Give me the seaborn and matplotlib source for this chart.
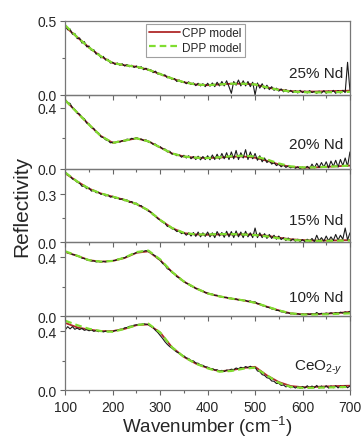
import matplotlib
matplotlib.use("Agg")
import matplotlib.pyplot as plt
import seaborn as sns

# wavenumber grids (cm^-1)
wn_exp = list(range(100, 701, 5))
wn_fit = list(range(100, 701, 25))

# --- 25% Nd ---
exp_25 = [0.47, 0.44, 0.445, 0.41, 0.415, 0.38, 0.385, 0.35, 0.36, 0.325,
          0.33, 0.30, 0.305, 0.275, 0.28, 0.25, 0.26, 0.235, 0.24, 0.215,
          0.22, 0.205, 0.215, 0.20, 0.21, 0.195, 0.205, 0.19, 0.20, 0.185,
          0.195, 0.18, 0.19, 0.17, 0.18, 0.165, 0.17, 0.15, 0.16, 0.14,
          0.145, 0.13, 0.135, 0.115, 0.12, 0.105, 0.11, 0.09, 0.10, 0.085,
          0.09, 0.075, 0.088, 0.07, 0.08, 0.062, 0.078, 0.06, 0.075, 0.055,
          0.078, 0.058, 0.08, 0.055, 0.085, 0.06, 0.09, 0.06, 0.095, 0.055,
          0.01, 0.09, 0.065, 0.10, 0.06, 0.095, 0.06, 0.09, 0.055, 0.085,
          0.0, 0.08, 0.045, 0.075, 0.04, 0.065, 0.035, 0.055, 0.03, 0.045,
          0.025, 0.04, 0.02, 0.035, 0.018, 0.03, 0.015, 0.028, 0.012, 0.03,
          0.015, 0.025, 0.012, 0.028, 0.015, 0.022, 0.01, 0.025, 0.012, 0.028,
          0.01, 0.025, 0.015, 0.03, 0.01, 0.028, 0.012, 0.03, 0.015, 0.22,
          0.03]
cpp_25 = [0.46, 0.39, 0.32, 0.26, 0.215, 0.20, 0.19, 0.17, 0.14, 0.11,
          0.085, 0.07, 0.065, 0.07, 0.075, 0.075, 0.07, 0.05, 0.035, 0.025,
          0.022, 0.022, 0.024, 0.026, 0.028]
dpp_25 = [0.47, 0.39, 0.32, 0.26, 0.215, 0.20, 0.19, 0.17, 0.14, 0.11,
          0.085, 0.07, 0.065, 0.07, 0.075, 0.075, 0.07, 0.05, 0.033, 0.022,
          0.018, 0.016, 0.017, 0.018, 0.02]

# --- 20% Nd ---
exp_20 = [0.455, 0.435, 0.43, 0.40, 0.39, 0.365, 0.36, 0.335, 0.33, 0.30,
          0.295, 0.27, 0.265, 0.24, 0.235, 0.21, 0.205, 0.19, 0.185, 0.17,
          0.175, 0.17, 0.18, 0.175, 0.185, 0.18, 0.195, 0.19, 0.20, 0.195,
          0.205, 0.195, 0.195, 0.185, 0.19, 0.175, 0.175, 0.16, 0.162, 0.145,
          0.145, 0.13, 0.13, 0.11, 0.115, 0.095, 0.10, 0.085, 0.092, 0.075,
          0.088, 0.07, 0.085, 0.065, 0.08, 0.06, 0.082, 0.058, 0.08, 0.06,
          0.085, 0.058, 0.09, 0.06, 0.095, 0.062, 0.10, 0.065, 0.105, 0.06,
          0.11, 0.065, 0.12, 0.06, 0.105, 0.07, 0.125, 0.06, 0.11, 0.065,
          0.10, 0.055, 0.085, 0.045, 0.07, 0.04, 0.055, 0.03, 0.04, 0.02,
          0.03, 0.012, 0.025, 0.008, 0.018, 0.005, 0.015, 0.002, 0.012, 0.0,
          0.01, 0.002, 0.015, 0.0, 0.03, 0.005, 0.035, 0.008, 0.04, 0.01,
          0.045, 0.005, 0.05, 0.015, 0.055, 0.01, 0.06, 0.02, 0.07, 0.015,
          0.11]
cpp_20 = [0.45, 0.37, 0.29, 0.215, 0.17, 0.185, 0.20, 0.18, 0.14, 0.10,
          0.08, 0.072, 0.07, 0.073, 0.078, 0.08, 0.072, 0.052, 0.028, 0.012,
          0.006, 0.008, 0.012, 0.016, 0.02]
dpp_20 = [0.45, 0.37, 0.29, 0.215, 0.17, 0.185, 0.20, 0.18, 0.14, 0.10,
          0.08, 0.072, 0.07, 0.075, 0.082, 0.085, 0.08, 0.06, 0.034, 0.015,
          0.008, 0.008, 0.012, 0.016, 0.02]

# --- 15% Nd ---
exp_15 = [0.44, 0.42, 0.415, 0.395, 0.39, 0.375, 0.37, 0.35, 0.35, 0.335,
          0.34, 0.32, 0.325, 0.31, 0.312, 0.30, 0.302, 0.29, 0.295, 0.282,
          0.288, 0.275, 0.28, 0.268, 0.272, 0.26, 0.265, 0.25, 0.255, 0.24,
          0.245, 0.228, 0.23, 0.212, 0.21, 0.195, 0.19, 0.172, 0.165, 0.148,
          0.14, 0.125, 0.12, 0.10, 0.098, 0.085, 0.082, 0.068, 0.07, 0.055,
          0.062, 0.045, 0.06, 0.04, 0.062, 0.038, 0.065, 0.035, 0.06, 0.038,
          0.065, 0.035, 0.06, 0.03, 0.068, 0.04, 0.062, 0.032, 0.07, 0.035,
          0.068, 0.03, 0.072, 0.035, 0.065, 0.03, 0.07, 0.035, 0.06, 0.03,
          0.09, 0.03, 0.06, 0.03, 0.055, 0.025, 0.05, 0.025, 0.045, 0.02,
          0.04, 0.018, 0.03, 0.012, 0.028, 0.01, 0.022, 0.008, 0.02, 0.005,
          0.018, 0.005, 0.02, 0.008, 0.025, 0.005, 0.045, 0.01, 0.03, 0.008,
          0.04, 0.01, 0.035, 0.012, 0.05, 0.015, 0.045, 0.02, 0.09, 0.015,
          0.06]
cpp_15 = [0.43, 0.38, 0.335, 0.305, 0.285, 0.265, 0.24, 0.20, 0.14, 0.09,
          0.058, 0.05, 0.048, 0.05, 0.05, 0.05, 0.048, 0.042, 0.03, 0.02,
          0.015, 0.012, 0.012, 0.013, 0.015]
dpp_15 = [0.435, 0.38, 0.335, 0.305, 0.285, 0.265, 0.24, 0.20, 0.14, 0.09,
          0.06, 0.05, 0.05, 0.052, 0.052, 0.05, 0.046, 0.038, 0.026, 0.016,
          0.012, 0.01, 0.01, 0.011, 0.012]

# --- 10% Nd ---
exp_10 = [0.44, 0.43, 0.43, 0.418, 0.416, 0.408, 0.405, 0.394, 0.392, 0.382,
          0.382, 0.374, 0.376, 0.368, 0.372, 0.367, 0.372, 0.368, 0.374, 0.372,
          0.378, 0.378, 0.386, 0.386, 0.395, 0.396, 0.406, 0.41, 0.42, 0.424,
          0.432, 0.434, 0.44, 0.44, 0.445, 0.438, 0.432, 0.418, 0.408, 0.39,
          0.38, 0.358, 0.346, 0.322, 0.315, 0.296, 0.288, 0.268, 0.26, 0.244,
          0.238, 0.224, 0.218, 0.204, 0.20, 0.188, 0.185, 0.174, 0.172, 0.16,
          0.158, 0.15, 0.15, 0.142, 0.142, 0.134, 0.134, 0.128, 0.128, 0.12,
          0.122, 0.115, 0.118, 0.11, 0.113, 0.106, 0.108, 0.10, 0.104, 0.095,
          0.098, 0.085, 0.085, 0.072, 0.072, 0.062, 0.06, 0.05, 0.05, 0.04,
          0.04, 0.03, 0.03, 0.022, 0.024, 0.017, 0.02, 0.013, 0.017, 0.012,
          0.016, 0.012, 0.017, 0.013, 0.018, 0.013, 0.026, 0.014, 0.02, 0.016,
          0.022, 0.017, 0.024, 0.018, 0.025, 0.02, 0.028, 0.022, 0.03, 0.024,
          0.034]
cpp_10 = [0.435, 0.41, 0.38, 0.37, 0.375, 0.395, 0.43, 0.44, 0.38, 0.30,
          0.235, 0.19, 0.155, 0.135, 0.12, 0.108, 0.092, 0.065, 0.04, 0.02,
          0.014, 0.015, 0.018, 0.022, 0.03]
dpp_10 = [0.44, 0.41, 0.38, 0.37, 0.375, 0.397, 0.435, 0.445, 0.385, 0.30,
          0.235, 0.19, 0.155, 0.135, 0.12, 0.108, 0.092, 0.066, 0.04, 0.02,
          0.012, 0.012, 0.014, 0.017, 0.02]

# --- CeO2-y ---
exp_ce = [0.41, 0.43, 0.415, 0.43, 0.412, 0.42, 0.41, 0.418, 0.405, 0.41,
          0.402, 0.408, 0.398, 0.404, 0.396, 0.402, 0.394, 0.40, 0.395, 0.398,
          0.397, 0.404, 0.404, 0.412, 0.412, 0.422, 0.424, 0.432, 0.434, 0.44,
          0.442, 0.446, 0.446, 0.45, 0.446, 0.444, 0.432, 0.424, 0.405, 0.39,
          0.37, 0.35, 0.328, 0.31, 0.295, 0.284, 0.27, 0.258, 0.25, 0.238,
          0.232, 0.218, 0.214, 0.20, 0.198, 0.184, 0.182, 0.17, 0.168, 0.158,
          0.156, 0.146, 0.146, 0.136, 0.138, 0.128, 0.134, 0.126, 0.136, 0.134,
          0.142, 0.138, 0.15, 0.144, 0.155, 0.148, 0.16, 0.152, 0.162, 0.15,
          0.155, 0.13, 0.125, 0.105, 0.10, 0.084, 0.08, 0.062, 0.06, 0.045,
          0.046, 0.032, 0.035, 0.022, 0.028, 0.016, 0.024, 0.014, 0.025, 0.012,
          0.025, 0.014, 0.03, 0.015, 0.028, 0.016, 0.032, 0.014, 0.028, 0.016,
          0.03, 0.014, 0.028, 0.016, 0.03, 0.015, 0.028, 0.017, 0.03, 0.016,
          0.028]
cpp_ce = [0.455, 0.425, 0.41, 0.40, 0.40, 0.415, 0.44, 0.445, 0.39, 0.29,
          0.225, 0.18, 0.15, 0.128, 0.135, 0.15, 0.158, 0.10, 0.055, 0.028,
          0.02, 0.022, 0.025, 0.028, 0.03]
dpp_ce = [0.47, 0.44, 0.415, 0.40, 0.395, 0.415, 0.44, 0.45, 0.39, 0.29,
          0.225, 0.18, 0.148, 0.125, 0.13, 0.145, 0.152, 0.10, 0.05, 0.022,
          0.015, 0.016, 0.018, 0.02, 0.022]

panels = [
    (exp_25, cpp_25, dpp_25, "25% Nd", 0.5, 0.5, 0.30),
    (exp_20, cpp_20, dpp_20, "20% Nd", 0.487, 0.4, 0.34),
    (exp_15, cpp_15, dpp_15, "15% Nd", 0.46, 0.3, 0.31),
    (exp_10, cpp_10, dpp_10, "10% Nd", 0.50, 0.4, 0.26),
    (exp_ce, cpp_ce, dpp_ce, r"CeO$_{2\text{-}y}$", 0.50, 0.4, 0.31),
]

sns.set_style("ticks")
plt.rcParams["font.family"] = ["Liberation Sans", "DejaVu Sans"]
plt.rcParams["mathtext.fontset"] = "custom"
plt.rcParams["mathtext.rm"] = "Liberation Sans"
plt.rcParams["mathtext.it"] = "Liberation Sans:italic"

fig, axes = plt.subplots(5, 1, figsize=(3.63, 4.39), dpi=100, sharex=True)
fig.subplots_adjust(left=0.180, right=0.964, top=0.950, bottom=0.109, hspace=0)

for i, (ax, (exp, cpp, dpp, name, ytop, ymaj, ylab)) in enumerate(zip(axes, panels)):
    ax.patch.set_alpha(0)
    ax.set_zorder(10 - i)
    sns.lineplot(x=wn_fit, y=cpp, ax=ax, color="#b02a2a", lw=1.3,
                 label="CPP model" if i == 0 else None)
    sns.lineplot(x=wn_exp, y=exp, ax=ax, color="#1a1a1a", lw=0.8)
    sns.lineplot(x=wn_fit, y=dpp, ax=ax, color="#80dd30", lw=1.6,
                 linestyle=(0, (3, 1.8)), label="DPP model" if i == 0 else None)
    ax.set_xlim(100, 700)
    ax.set_ylim(0, ytop)
    ax.set_yticks([0, ymaj])
    ax.set_yticks([ymaj / 2], minor=True)
    ax.set_yticklabels(["0.0", f"{ymaj:.1f}"])
    ax.set_xticks(range(100, 701, 100))
    ax.set_xticks(range(150, 700, 100), minor=True)
    ax.set_ylabel("")
    ax.set_xlabel("")
    ax.tick_params(axis="both", which="major", direction="out", length=3.5,
                   width=0.8, color="#666666", labelsize=10, pad=2.5)
    ax.tick_params(axis="both", which="minor", direction="out", length=2,
                   width=0.8, color="#666666")
    for s in ax.spines.values():
        s.set_color("#777777")
        s.set_linewidth(0.9)
        s.set_visible(True)
    ax.text(0.975, ylab, name, transform=ax.transAxes, ha="right",
            va="center", fontsize=11, color="#222222")
    if i < 4:
        ax.tick_params(axis="x", labelbottom=False)
    else:
        ax.tick_params(axis="x", pad=3.5)

leg = axes[0].legend(loc="upper left", bbox_to_anchor=(0.285, 0.963),
                     borderaxespad=0, fontsize=8.5, frameon=True, fancybox=False,
                     handlelength=2.6, handletextpad=0.2, labelspacing=0.25,
                     borderpad=0.25)
leg.get_frame().set_edgecolor("#888888")
leg.get_frame().set_linewidth(0.8)

axes[-1].set_xlabel(r"Wavenumber (cm$^{-1}$)", fontsize=13.5, labelpad=0)
fig.text(0.06, 1 - 206 / 439, "Reflectivity", rotation=90, ha="center",
         va="center", fontsize=15)

fig.savefig("out.png", dpi=100, facecolor="white")
